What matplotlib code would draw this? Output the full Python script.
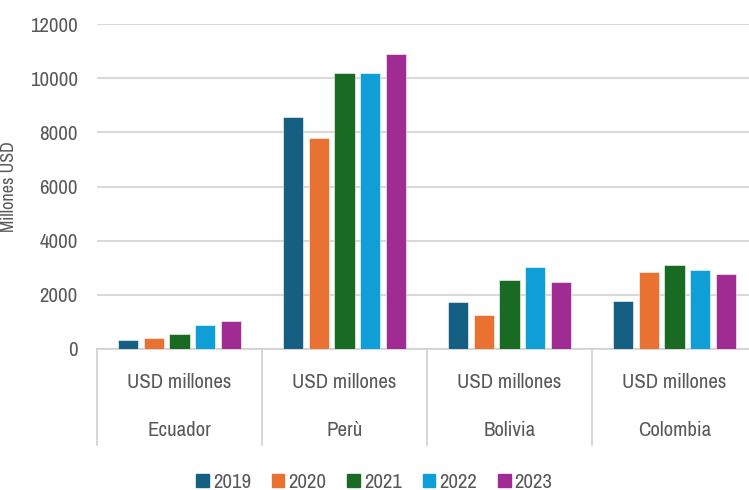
import numpy as np
import matplotlib.pyplot as plt
from matplotlib.patches import Patch
from matplotlib import font_manager

names = {f.name for f in font_manager.fontManager.ttflist}
candidates = ['Liberation Sans Narrow', 'Archivo Narrow', 'PT Sans Narrow',
              'Roboto Condensed', 'Fira Sans Condensed', 'IBM Plex Sans Condensed',
              'Liberation Sans']
fam = next(c for c in candidates if c in names)
plt.rcParams['font.family'] = [fam, 'DejaVu Sans']

countries = ['Ecuador', 'Perù', 'Bolivia', 'Colombia']
unit = 'USD millones'
years = ['2019', '2020', '2021', '2022', '2023']
v2019 = [330, 8560, 1720, 1790]
v2020 = [405, 7790, 1240, 2860]
v2021 = [565, 10190, 2550, 3090]
v2022 = [875, 10190, 3010, 2935]
v2023 = [1020, 10880, 2480, 2785]
series = [v2019, v2020, v2021, v2022, v2023]
colors = ['#156082', '#E97132', '#196B24', '#0F9ED5', '#A02B93']

grey = '#595959'
fig = plt.figure(figsize=(7.49, 4.90), dpi=100)
ax = fig.add_axes([97/749, 141/490, 660/749, 325/490])

x = np.arange(len(countries))
slot = 0.156
w = 0.122
for i, vals in enumerate(series):
    ax.bar(x + (i - 2) * slot, vals, w, color=colors[i], label=years[i],
           zorder=3, edgecolor='white', linewidth=0.4)

ax.set_xlim(-0.5, len(countries) - 0.5)
ax.set_ylim(0, 12000)
ax.set_yticks(range(0, 12001, 2000))
ax.tick_params(axis='y', length=0, labelsize=15, labelcolor=grey, pad=14)
ax.set_xticks([])
ax.grid(axis='y', color='#d9d9d9', linewidth=1.5, zorder=0)
for s in ['top', 'right', 'left']:
    ax.spines[s].set_visible(False)
ax.spines['bottom'].set_color('#d0d0d0')
ax.spines['bottom'].set_linewidth(1.2)

# two-level category axis
tr = ax.get_xaxis_transform()
for i, c in enumerate(countries):
    ax.text(i, -0.103, unit, transform=tr, ha='center', va='center',
            fontsize=15, color=grey)
    ax.text(i, -0.252, c, transform=tr, ha='center', va='center',
            fontsize=15, color=grey)
for b in np.arange(-0.5, len(countries), 1.0):
    ax.plot([b, b], [0, -0.295], transform=tr, color='#d0d0d0',
            linewidth=1.2, clip_on=False)

fig.text(9/749, 0.62, 'Millones USD', rotation=90, ha='center', va='center',
         fontsize=13, color=grey)

handles = [Patch(color=colors[i], label=years[i]) for i in range(len(years))]
fig.legend(handles=handles, loc='center', bbox_to_anchor=(0.5, 8/490), ncol=5,
           frameon=False, fontsize=15, labelcolor=grey, handlelength=0.6,
           handleheight=0.6, handletextpad=0.2, columnspacing=1.0)

fig.savefig('out.png', dpi=100)
